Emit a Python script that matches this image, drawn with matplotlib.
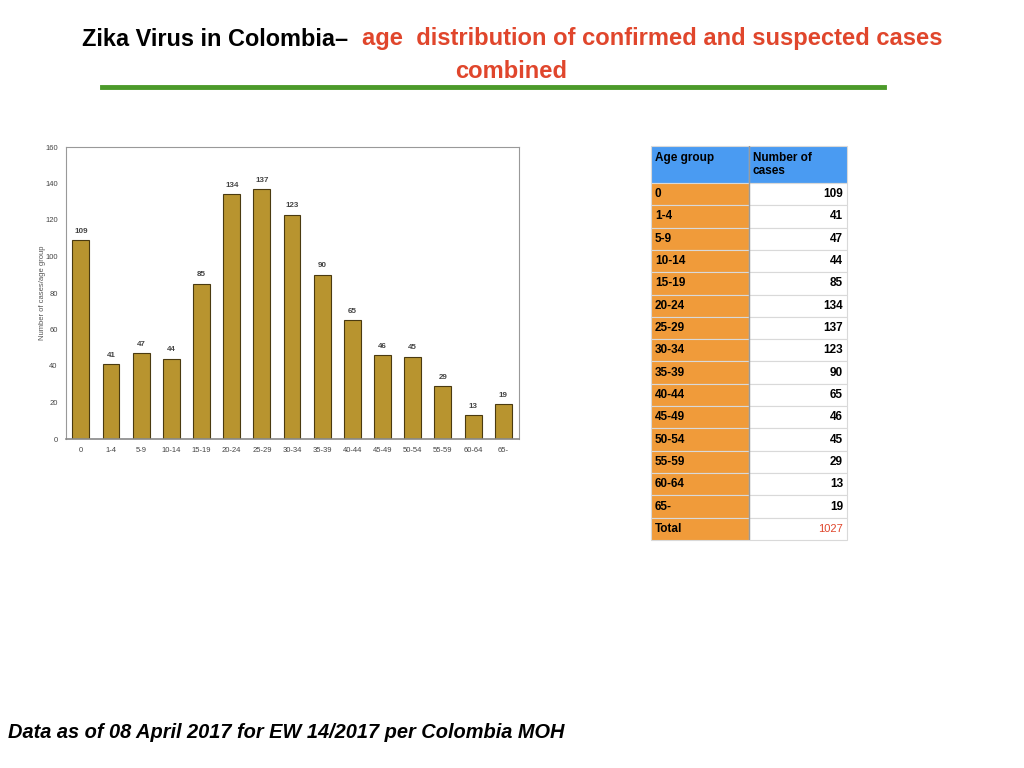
import matplotlib
matplotlib.use("Agg")
import matplotlib.pyplot as plt

plt.rcParams['font.family'] = ['Liberation Sans', 'DejaVu Sans']

# data
age_groups = ['0', '1-4', '5-9', '10-14', '15-19', '20-24', '25-29', '30-34',
              '35-39', '40-44', '45-49', '50-54', '55-59', '60-64', '65-']
cases = [109, 41, 47, 44, 85, 134, 137, 123, 90, 65, 46, 45, 29, 13, 19]
y_ticks = [0, 20, 40, 60, 80, 100, 120, 140, 160]

bar_color = '#B8942F'
red = '#E0462C'
green = '#4C9A2A'

fig = plt.figure(figsize=(10.24, 7.68), dpi=100)

# title
fig.text(348 / 1024, 1 - 39 / 768, 'Zika Virus in Colombia\u2013', ha='right', va='center',
         fontsize=16.9, fontweight='bold', color='black')
fig.text(362 / 1024, 1 - 39 / 768, 'age  distribution of confirmed and suspected cases',
         ha='left', va='center', fontsize=17.1, fontweight='bold', color=red)
fig.text(511 / 1024, 1 - 71 / 768, 'combined', ha='center', va='center',
         fontsize=17.1, fontweight='bold', color=red)
fig.add_artist(plt.Line2D([102 / 1024, 884 / 1024], [1 - 87 / 768, 1 - 87 / 768],
                          color=green, lw=3.5))

# bar chart
ax = fig.add_axes([66 / 1024, 1 - 439 / 768, (519 - 66) / 1024, (439 - 147) / 768])
x = range(len(age_groups))
ax.bar(x, cases, width=0.56, color=bar_color, edgecolor='#4a3a10', linewidth=0.8)
for xi, v in zip(x, cases):
    ax.text(xi, v + 3, str(v), ha='center', va='bottom', fontsize=5.8,
            fontweight='bold', color='#444444')
ax.set_xlim(-0.49, 14.52)
ax.set_ylim(0, 160)
ax.set_yticks(y_ticks)
ax.set_xticks(list(x))
ax.set_xticklabels(age_groups)
ax.tick_params(axis='both', length=0, labelsize=5.5, colors='#444444', pad=6)
ax.set_ylabel('Number of cases/age group', fontsize=5.5, color='#555555', labelpad=-1)
for s in ['top', 'right', 'left']:
    ax.spines[s].set_color('#999999')
    ax.spines[s].set_linewidth(0.8)
ax.spines['bottom'].set_color('#888888')
ax.spines['bottom'].set_linewidth(1.2)

# table
tax = fig.add_axes([651 / 1024, 1 - 540 / 768, (847 - 651) / 1024, (540 - 146) / 768])
tax.axis('off')
total = sum(cases)
rows = [[g, str(c)] for g, c in zip(age_groups, cases)] + [['Total', str(total)]]
col_labels = ['Age group\n ', 'Number of\ncases']
n = len(rows) + 1
cell_text = [col_labels] + rows
colours = [['#4A9BF2', '#4A9BF2']] + [['#F09B3A', 'white']] * len(rows)
tbl = tax.table(cellText=cell_text, cellColours=colours, bbox=[0, 0, 1, 1],
                colWidths=[0.5, 0.5])
tbl.auto_set_font_size(False)
h_head = 37 / (540 - 146)
h_row = (1 - h_head) / len(rows)
for (r, c), cell in tbl.get_celld().items():
    cell.set_edgecolor('#d9d9d9')
    cell.set_linewidth(0.8)
    cell.set_height(h_head if r == 0 else h_row)
    cell.PAD = 0.04
    t = cell.get_text()
    t.set_fontsize(8.5)
    t.set_fontweight('bold')
    t.set_linespacing(1.05)
    if c == 0 or r == 0:
        t.set_ha('left')
    else:
        t.set_ha('right')
tbl[n - 1, 1].get_text().set_color(red)
tbl[n - 1, 1].get_text().set_fontweight('normal')
tbl[n - 1, 1].get_text().set_fontsize(8)
# darker divider between the two columns
tax.axvline(0.5, color='#9a9a9a', lw=1.0)

# footer
fig.text(8 / 1024, 1 - 733 / 768, 'Data as of 08 April 2017 for EW 14/2017 per Colombia MOH',
         ha='left', va='center', fontsize=14.4, fontweight='bold', style='italic', color='black')

fig.savefig('out.png', dpi=100)
